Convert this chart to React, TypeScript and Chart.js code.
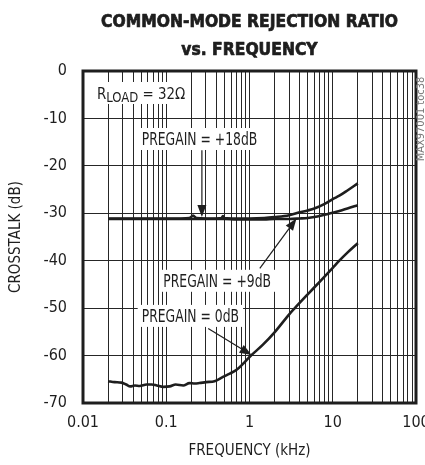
import React, { useEffect, useRef } from "react";
import { Chart, registerables } from "chart.js";

Chart.register(...registerables);

const FONT = "'DejaVu Sans Condensed', 'DejaVu Sans', sans-serif";
const INK = "#1e1e1e";
const GRID = "#262626";

const TITLE_LINES = ["COMMON-MODE REJECTION RATIO", "vs. FREQUENCY"];
const TITLE_WIDTH = 297;
const X_AXIS_TITLE = "FREQUENCY (kHz)";
const Y_AXIS_TITLE = "CROSSTALK (dB)";
const SIDE_NOTE = "MAX97001 toc38";

const X_MIN = 0.01;
const X_MAX = 100;
const Y_MIN = -70;
const Y_MAX = 0;
const Y_STEP = 10;
const X_DECADES = [0.01, 0.1, 1, 10, 100];
const X_DECADE_LABELS = ["0.01", "0.1", "1", "10", "100"];
const X_MINOR_STEPS = [1, 2, 3, 4, 5, 6, 7, 8, 9];

// PREGAIN = +18dB (upper branch)
const FREQ_18DB = [0.02, 0.05, 0.1, 0.15, 0.19, 0.21, 0.23, 0.3, 0.4, 0.46, 0.48, 0.5, 0.7, 1, 1.5, 2, 3, 4, 5, 6, 8, 10, 12, 15, 20];
const DB_18DB = [-31.1, -31.1, -31.1, -31.1, -31.0, -30.5, -31.0, -31.1, -31.1, -31.0, -30.6, -31.0, -31.1, -31.1, -31.0, -30.8, -30.4, -29.8, -29.4, -29.0, -28.0, -27.0, -26.3, -25.2, -23.7];

// PREGAIN = +9dB (lower branch)
const FREQ_9DB = [0.02, 0.05, 0.1, 0.2, 0.3, 0.5, 0.7, 1, 1.5, 2, 3, 4, 5, 6, 8, 10, 12, 15, 20];
const DB_9DB = [-31.2, -31.2, -31.2, -31.2, -31.2, -31.2, -31.3, -31.3, -31.3, -31.2, -31.2, -31.1, -31.0, -30.8, -30.3, -29.9, -29.5, -29.0, -28.3];

// PREGAIN = 0dB
const FREQ_0DB = [0.02, 0.024, 0.029, 0.033, 0.037, 0.042, 0.048, 0.058, 0.067, 0.077, 0.092, 0.11, 0.13, 0.16, 0.19, 0.22, 0.25, 0.3, 0.38, 0.48, 0.58, 0.7, 0.84, 1.0, 1.45, 2.0, 3.0, 3.5, 5, 7, 10, 12, 15, 20];
const DB_0DB = [-65.4, -65.6, -65.7, -66.1, -66.5, -66.3, -66.4, -66.1, -66.1, -66.3, -66.6, -66.5, -66.1, -66.3, -65.8, -65.9, -65.8, -65.6, -65.4, -64.5, -63.8, -63.0, -61.7, -60.3, -57.7, -55.1, -51.3, -50.0, -47.1, -44.4, -41.5, -40.0, -38.3, -36.3];

// [text, font size, baseline shift]
type Part = [string, number, number];
const LABELS: { parts: Part[]; freq: number; db: number; sx: number }[] = [
  { parts: [["R", 16, 0], ["LOAD", 14, 2.7], [" = 32Ω", 16, 0]], freq: 0.0147, db: -5.9, sx: 0.93 },
  { parts: [["PREGAIN = +18dB", 17, 0]], freq: 0.0507, db: -15.6, sx: 0.81 },
  { parts: [["PREGAIN = +9dB", 17, 0]], freq: 0.092, db: -45.5, sx: 0.81 },
  { parts: [["PREGAIN = 0dB", 17, 0]], freq: 0.0507, db: -52.9, sx: 0.81 },
];

const ARROWS = [
  { from: [0.268, -16.7], to: [0.268, -30.8] },
  { from: [1.33, -41.6], to: [3.67, -31.1] },
  { from: [0.319, -54.3], to: [1.06, -59.9] },
];

const xGridTicks = X_DECADES.slice(0, -1)
  .flatMap((d) => X_MINOR_STEPS.map((m) => Number((d * m).toPrecision(6))))
  .concat([X_MAX]);

function toPoints(freq: number[], db: number[]) {
  return freq.map((f, i) => ({ x: f, y: db[i] }));
}

function measureLabel(ctx: CanvasRenderingContext2D, parts: Part[]) {
  let w = 0;
  for (const [t, s] of parts) {
    ctx.font = `${s}px ${FONT}`;
    w += ctx.measureText(t).width;
  }
  return w;
}

const overlayPlugin = {
  id: "overlay",
  beforeDatasetsDraw(chart: any) {
    const { ctx, scales } = chart;
    ctx.save();
    ctx.fillStyle = "#ffffff";
    for (const lab of LABELS) {
      const x = scales.x.getPixelForValue(lab.freq);
      const y = scales.y.getPixelForValue(lab.db);
      const w = measureLabel(ctx, lab.parts) * lab.sx;
      ctx.fillRect(x - 4, y - 17, w + 8, 22);
    }
    ctx.restore();
  },
  afterDatasetsDraw(chart: any) {
    const { ctx, scales, chartArea } = chart;
    ctx.save();
    // frame
    ctx.strokeStyle = INK;
    ctx.lineWidth = 3;
    ctx.strokeRect(chartArea.left, chartArea.top, chartArea.right - chartArea.left, chartArea.bottom - chartArea.top);
    // labels
    ctx.fillStyle = INK;
    ctx.textBaseline = "alphabetic";
    ctx.textAlign = "left";
    for (const lab of LABELS) {
      const x0 = scales.x.getPixelForValue(lab.freq);
      const y = scales.y.getPixelForValue(lab.db);
      ctx.save();
      ctx.translate(x0, y);
      ctx.scale(lab.sx, 1);
      let x = 0;
      for (const [t, s, dy] of lab.parts) {
        ctx.font = `${s}px ${FONT}`;
        ctx.fillText(t, x, dy);
        x += ctx.measureText(t).width;
      }
      ctx.restore();
    }
    // arrows
    ctx.strokeStyle = INK;
    ctx.lineWidth = 1.2;
    for (const a of ARROWS) {
      const x0 = scales.x.getPixelForValue(a.from[0]);
      const y0 = scales.y.getPixelForValue(a.from[1]);
      const x1 = scales.x.getPixelForValue(a.to[0]);
      const y1 = scales.y.getPixelForValue(a.to[1]);
      const ang = Math.atan2(y1 - y0, x1 - x0);
      const L = 12;
      const H = 4.5;
      const bx = x1 - L * Math.cos(ang);
      const by = y1 - L * Math.sin(ang);
      ctx.beginPath();
      ctx.moveTo(x0, y0);
      ctx.lineTo(bx, by);
      ctx.stroke();
      ctx.beginPath();
      ctx.moveTo(x1, y1);
      ctx.lineTo(bx + H * Math.sin(ang), by - H * Math.cos(ang));
      ctx.lineTo(bx - H * Math.sin(ang), by + H * Math.cos(ang));
      ctx.closePath();
      ctx.fill();
    }
    ctx.restore();
  },
  afterDraw(chart: any) {
    const { ctx, chartArea } = chart;
    ctx.save();
    ctx.fillStyle = INK;
    ctx.strokeStyle = INK;
    ctx.lineWidth = 0.7;
    ctx.lineJoin = "round";
    ctx.textAlign = "center";
    ctx.textBaseline = "alphabetic";
    ctx.font = `bold 18px ${FONT}`;
    const sx = TITLE_WIDTH / ctx.measureText(TITLE_LINES[0]).width;
    const cx = (chartArea.left + chartArea.right) / 2;
    const baselines = [26.7, 55];
    TITLE_LINES.forEach((line, i) => {
      ctx.save();
      ctx.translate(cx, baselines[i]);
      ctx.scale(sx, 1);
      ctx.fillText(line, 0, 0);
      ctx.strokeText(line, 0, 0);
      ctx.restore();
    });
    // side note
    ctx.fillStyle = "#777777";
    ctx.font = `11px ${FONT}`;
    ctx.textBaseline = "middle";
    ctx.translate(chartArea.right + 5, chartArea.top + 48);
    ctx.rotate(-Math.PI / 2);
    ctx.fillText(SIDE_NOTE, 0, 0);
    ctx.restore();
  },
};

export default function App() {
  const canvasRef = useRef<HTMLCanvasElement | null>(null);

  useEffect(() => {
    const canvas = canvasRef.current;
    if (!canvas) return;
    const lineStyle = {
      borderColor: INK,
      backgroundColor: INK,
      borderWidth: 2.6,
      pointRadius: 0,
      fill: false,
      cubicInterpolationMode: "monotone" as const,
    };
    const chart = new Chart(canvas, {
      type: "line",
      data: {
        datasets: [
          { label: "PREGAIN = +18dB", data: toPoints(FREQ_18DB, DB_18DB), ...lineStyle },
          { label: "PREGAIN = +9dB", data: toPoints(FREQ_9DB, DB_9DB), ...lineStyle },
          { label: "PREGAIN = 0dB", data: toPoints(FREQ_0DB, DB_0DB), ...lineStyle },
        ],
      },
      options: {
        responsive: false,
        animation: false,
        devicePixelRatio: 1,
        layout: { padding: { left: 0, right: 9, top: 71, bottom: 0 } },
        plugins: {
          legend: { display: false },
          tooltip: { enabled: false },
          title: { display: false },
        },
        scales: {
          x: {
            type: "logarithmic",
            min: X_MIN,
            max: X_MAX,
            afterBuildTicks: (scale: any) => {
              scale.ticks = xGridTicks.map((v) => ({ value: v, major: X_DECADES.includes(v) }));
            },
            afterFit: (scale: any) => {
              scale.height = 62;
              scale.paddingLeft = 0;
              scale.paddingRight = 0;
            },
            grid: { color: GRID, lineWidth: 1, drawTicks: false },
            border: { display: false },
            ticks: {
              autoSkip: false,
              maxRotation: 0,
              minRotation: 0,
              padding: 10,
              color: INK,
              font: { family: FONT, size: 16 },
              callback: (value: any) => {
                const i = X_DECADES.findIndex((d) => Math.abs(d - Number(value)) < d * 1e-6);
                return i >= 0 ? X_DECADE_LABELS[i] : "";
              },
            },
            title: {
              display: true,
              text: X_AXIS_TITLE,
              color: INK,
              font: { family: FONT, size: 15 },
              padding: { top: 0, bottom: 5 },
            },
          },
          y: {
            type: "linear",
            min: Y_MIN,
            max: Y_MAX,
            afterFit: (scale: any) => {
              scale.width = 83;
              scale.paddingTop = 0;
              scale.paddingBottom = 0;
            },
            grid: { color: GRID, lineWidth: 1, drawTicks: false },
            border: { display: false },
            ticks: {
              stepSize: Y_STEP,
              padding: 16,
              color: INK,
              font: { family: FONT, size: 16 },
              callback: (value: any) => String(value),
            },
            title: {
              display: true,
              text: Y_AXIS_TITLE,
              color: INK,
              font: { family: FONT, size: 15 },
              padding: { top: 7, bottom: 0 },
            },
          },
        },
      },
      plugins: [overlayPlugin],
    });
    return () => chart.destroy();
  }, []);

  return (
    <div style={{ position: "absolute", left: 0, top: 0, width: 425, height: 465, background: "#fff" }}>
      <canvas ref={canvasRef} width={425} height={465} style={{ display: "block" }} />
    </div>
  );
}
